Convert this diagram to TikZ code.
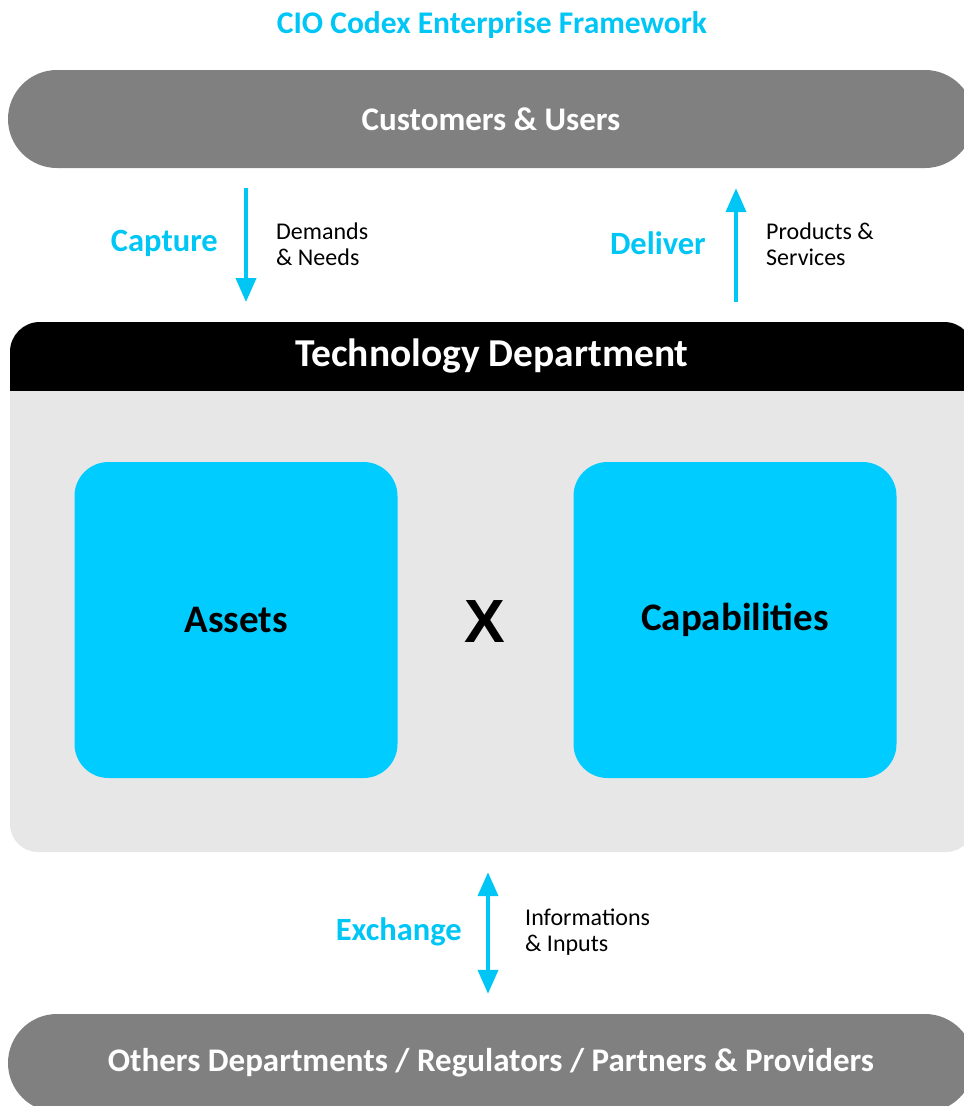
\documentclass[tikz,border=0pt]{standalone}
\usepackage{fontspec}
\setmainfont{Carlito}
\newfontfamily\crossfont{Liberation Sans}
\usetikzlibrary{shapes.misc, arrows.meta, positioning}

\definecolor{codexcyan}{HTML}{00C6F5}
\definecolor{boxcyan}{HTML}{00CCFF}
\definecolor{bargray}{HTML}{808080}
\definecolor{panelgray}{HTML}{E7E7E7}

\begin{document}
\begin{tikzpicture}[
        x = 1pt, y = -1pt,
        every node/.style = {align=center, inner sep=0pt},
        bar/.style = {rounded rectangle, fill=bargray, text=white,
            minimum width=966pt, minimum height=98pt,
            font=\fontsize{33}{38}\selectfont\bfseries},
        block/.style = {rectangle, rounded corners=34pt, fill=boxcyan,
            minimum width=323pt, minimum height=316pt,
            font=\fontsize{39}{44}\selectfont\bfseries},
        verb/.style = {text=codexcyan, font=\fontsize{32.5}{36}\selectfont\bfseries},
        note/.style = {align=left, font=\fontsize{24}{26}\selectfont},
        line/.style = {draw=codexcyan, line width=4pt,
            -{Triangle[width=20pt, length=24pt]},
            shorten >=20pt, shorten <=20pt}
    ]
    \clip (0,0) rectangle (964,1106);
    \useasboundingbox (0,0) rectangle (964,1106);

    % Title and outer bars
    \node (title) [text=codexcyan, font=\fontsize{31.5}{36}\selectfont\bfseries]
        at (492,25) {CIO Codex Enterprise Framework};
    \node (customers) [bar] at (491,119) {Customers \& Users};
    \node (others) [bar] at (491,1063) {Others Departments / Regulators / Partners \& Providers};

    % Technology department
    \node (techbody) [rectangle, rounded corners=28pt, fill=panelgray,
        minimum width=964pt, minimum height=530pt] at (492,587) {};
    \begin{scope}
        \clip (10,322) rectangle (974,390);
        \fill [black, rounded corners=30pt] (10,322) rectangle (974,430);
    \end{scope}
    \node (techhead) [text=white, minimum height=68pt,
        font=\fontsize{39.5}{44}\selectfont\bfseries] at (492,356) {Technology Department};
    \coordinate (techtop) at (492,322);

    \node (assets) [block] at (236,620) {Assets};
    \node (capabilities) [block] at (735,620) {Capabilities};
    \node (cross) [font=\fontsize{61}{66}\selectfont\crossfont\bfseries] at (485,622) {X};

    % Lines
    \coordinate (capx) at (246,0);
    \coordinate (delx) at (736,0);
    \coordinate (exx) at (488,0);
    \path [line] (customers.south -| capx) -- (techtop -| capx);
    \path [line] (techtop -| delx) -- (customers.south -| delx);
    \path [line, {Triangle[width=20pt, length=24pt]}-{Triangle[width=20pt, length=24pt]}]
        (techbody.south -| exx) -- (others.north -| exx);

    % Labels
    \node (capture) [verb, anchor=east] at (218,243) {Capture};
    \node (demands) [note, anchor=west] at (276,244) {Demands\\ \& Needs};
    \node (deliver) [verb, anchor=east] at (706,243) {Deliver};
    \node (products) [note, anchor=west] at (766,244) {Products \&\\ Services};
    \node (exchange) [verb, anchor=east] at (462,932) {Exchange};
    \node (informations) [note, anchor=west] at (525,932) {Informations\\ \& Inputs};

\end{tikzpicture}
\end{document}
